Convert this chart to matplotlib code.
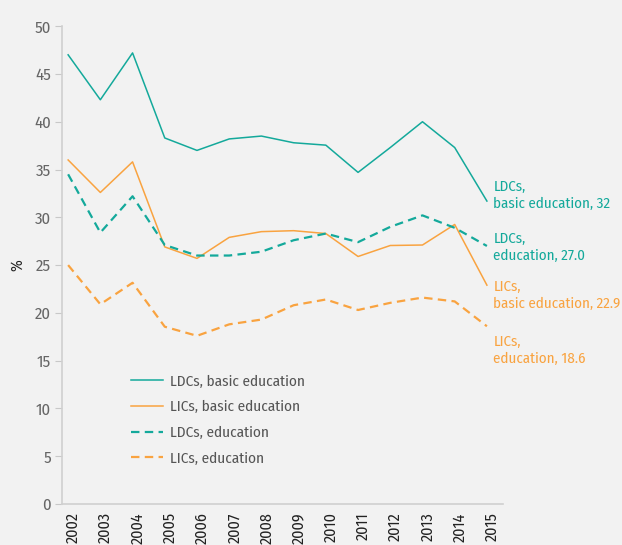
import matplotlib.pyplot as plt

years = list(range(2002, 2016))

ldc_basic = [47.0, 42.3, 47.2, 38.3, 37.0, 38.2, 38.5, 37.8, 37.55, 34.7, 37.3, 40.0, 37.3, 31.7]
lic_basic = [36.0, 32.6, 35.8, 26.9, 25.7, 27.9, 28.5, 28.6, 28.3, 25.9, 27.05, 27.1, 29.25, 22.9]
ldc_edu = [34.5, 28.4, 32.2, 27.1, 26.0, 26.0, 26.4, 27.6, 28.3, 27.4, 29.0, 30.2, 28.9, 27.0]
lic_edu = [25.0, 20.9, 23.15, 18.55, 17.6, 18.8, 19.3, 20.8, 21.4, 20.3, 21.05, 21.6, 21.2, 18.6]

end_labels = ["LDCs,\nbasic education, 32", "LDCs,\neducation, 27.0",
              "LICs,\nbasic education, 22.9", "LICs,\neducation, 18.6"]

teal = "#14a99b"
orange = "#f9a340"
bg = "#f2f2f2"

plt.rcParams["font.family"] = ["Fira Sans Condensed", "DejaVu Sans"]

fig = plt.figure(figsize=(6.22, 5.45), dpi=100, facecolor=bg)
ax = fig.add_axes([0.0997, 0.0752, 0.709, 0.8768], facecolor=bg)

dash = (3.8, 2.4)
ax.plot(years, ldc_basic, color=teal, lw=1.1, label="LDCs, basic education")
ax.plot(years, lic_basic, color=orange, lw=1.1, label="LICs, basic education")
ax.plot(years, ldc_edu, color=teal, lw=1.6, dashes=dash, label="LDCs, education")
ax.plot(years, lic_edu, color=orange, lw=1.6, dashes=dash, label="LICs, education")

# end-of-line labels
label_y = [32.3, 26.9, 21.8, 16.1]
label_col = [teal, teal, orange, orange]
for txt, y, c in zip(end_labels, label_y, label_col):
    ax.text(years[-1] + 0.2, y, txt, color=c, fontsize=10.8, va="center", ha="left",
            linespacing=1.25, clip_on=False)

ax.set_xlim(2001.81, 2015.5)
ax.set_ylim(0, 50)
ax.set_yticks(range(0, 51, 5))
# labels sit a little right of the data points in the original
ax.set_xticks([y + 0.16 for y in years])
ax.set_xticklabels([str(y) for y in years], rotation=90, fontsize=11.5, color="#222222")
ax.tick_params(axis="x", length=0, pad=6)
ax.tick_params(axis="y", length=5, color="#c8c8c8", labelcolor="#666666", labelsize=12, pad=3)

for s in ["top", "right"]:
    ax.spines[s].set_visible(False)
for s in ["left", "bottom"]:
    ax.spines[s].set_color("#d0d0d0")
    ax.spines[s].set_linewidth(1.2)

ax.set_ylabel("%", fontsize=11.5, color="#222222", labelpad=6)

leg = ax.legend(loc="upper left", bbox_to_anchor=(0.125, 0.30), frameon=False,
                fontsize=11, handlelength=2.1, handletextpad=0.45, labelspacing=0.75,
                labelcolor="#555555")

fig.savefig("out.png", dpi=100, facecolor=bg)
